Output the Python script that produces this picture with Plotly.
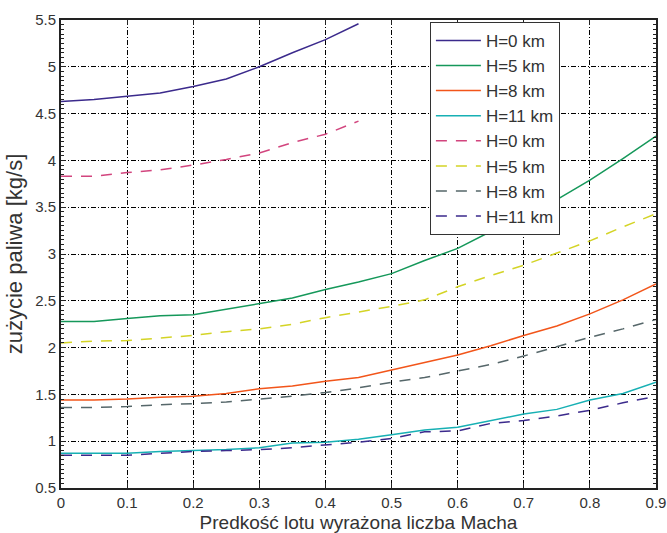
import plotly.graph_objects as go

mach = [0, 0.05, 0.1, 0.15, 0.2, 0.25, 0.3, 0.35, 0.4, 0.45, 0.5,
        0.55, 0.6, 0.65, 0.7, 0.75, 0.8, 0.85, 0.9]

# solid series
h0_a = [4.63, 4.65, 4.685, 4.72, 4.79, 4.87, 5.0, 5.15, 5.29, 5.46]
h5_a = [2.28, 2.28, 2.31, 2.34, 2.35, 2.41, 2.47, 2.53, 2.62, 2.70, 2.79,
        2.93, 3.06, 3.24, 3.40, 3.58, 3.79, 4.02, 4.26]
h8_a = [1.44, 1.44, 1.45, 1.47, 1.48, 1.51, 1.56, 1.59, 1.64, 1.68, 1.76,
        1.84, 1.92, 2.02, 2.13, 2.23, 2.36, 2.51, 2.68]
h11_a = [0.87, 0.87, 0.87, 0.89, 0.90, 0.91, 0.93, 0.98, 0.99, 1.02, 1.07,
         1.12, 1.15, 1.22, 1.29, 1.34, 1.44, 1.51, 1.63]
# dashed series
h0_b = [3.83, 3.83, 3.87, 3.90, 3.95, 4.01, 4.08, 4.19, 4.28, 4.42]
h5_b = [2.05, 2.07, 2.075, 2.10, 2.13, 2.17, 2.20, 2.25, 2.32, 2.38, 2.44,
        2.51, 2.65, 2.77, 2.88, 3.01, 3.14, 3.29, 3.43]
h8_b = [1.36, 1.36, 1.37, 1.39, 1.40, 1.42, 1.45, 1.48, 1.52, 1.57, 1.63,
        1.68, 1.75, 1.82, 1.91, 2.01, 2.11, 2.20, 2.30]
h11_b = [0.85, 0.85, 0.85, 0.87, 0.89, 0.90, 0.91, 0.93, 0.96, 0.99, 1.03,
         1.10, 1.11, 1.19, 1.22, 1.27, 1.33, 1.41, 1.48]

labels = ["H=0 km", "H=5 km", "H=8 km", "H=11 km"]
solid = [h0_a, h5_a, h8_a, h11_a]
dashed = [h0_b, h5_b, h8_b, h11_b]
solid_colors = ["#3b2a8c", "#15985a", "#f2551a", "#17b0b4"]
dashed_colors = ["#d2457e", "#d4d426", "#56676a", "#3b2a8c"]

FONT = "Liberation Sans, Arial"

fig = go.Figure()
for lab, ys, c in zip(labels, solid, solid_colors):
    fig.add_trace(go.Scatter(x=mach[:len(ys)], y=ys, mode="lines", name=lab,
                             line=dict(color=c, width=1.5)))
for lab, ys, c in zip(labels, dashed, dashed_colors):
    fig.add_trace(go.Scatter(x=mach[:len(ys)], y=ys, mode="lines", name=lab,
                             line=dict(color=c, width=1.5, dash="11px,9px")))

axis_common = dict(
    showline=True, linecolor="#222", linewidth=2, mirror="ticks",
    ticks="inside", ticklen=5, tickcolor="#222",
    showgrid=True, gridcolor="black", gridwidth=1, griddash="5px,2px,1px,2px",
    zeroline=False, automargin=False,
    tickfont=dict(family=FONT, size=15, color="#333"),
)

fig.update_xaxes(range=[0, 0.9], tickvals=[0, 0.1, 0.2, 0.3, 0.4, 0.5, 0.6, 0.7, 0.8, 0.9],
                 ticktext=["0", "0.1", "0.2", "0.3", "0.4", "0.5", "0.6", "0.7", "0.8", "0.9"],
                 title=dict(text="Predkość lotu wyrażona liczba Macha",
                            font=dict(family=FONT, size=19, color="#333"),
                            standoff=6),
                 **axis_common)
fig.update_yaxes(range=[0.5, 5.5], dtick=0.5,
                 minor=dict(dtick=0.05, ticks="inside", ticklen=3, tickcolor="#222", showgrid=False),
                 title=dict(text="zużycie paliwa [kg/s]",
                            font=dict(family=FONT, size=22, color="#333"),
                            standoff=6),
                 **axis_common)

fig.update_layout(
    width=667, height=533,
    margin=dict(l=61, r=11, t=20, b=45),
    plot_bgcolor="white", paper_bgcolor="white",
    legend=dict(x=0.62, y=0.996, xanchor="left", yanchor="top",
                bgcolor="white", bordercolor="#333", borderwidth=1,
                font=dict(family=FONT, size=17, color="#333"),
                tracegroupgap=0, itemwidth=45),
)

fig.write_html("out.html")
